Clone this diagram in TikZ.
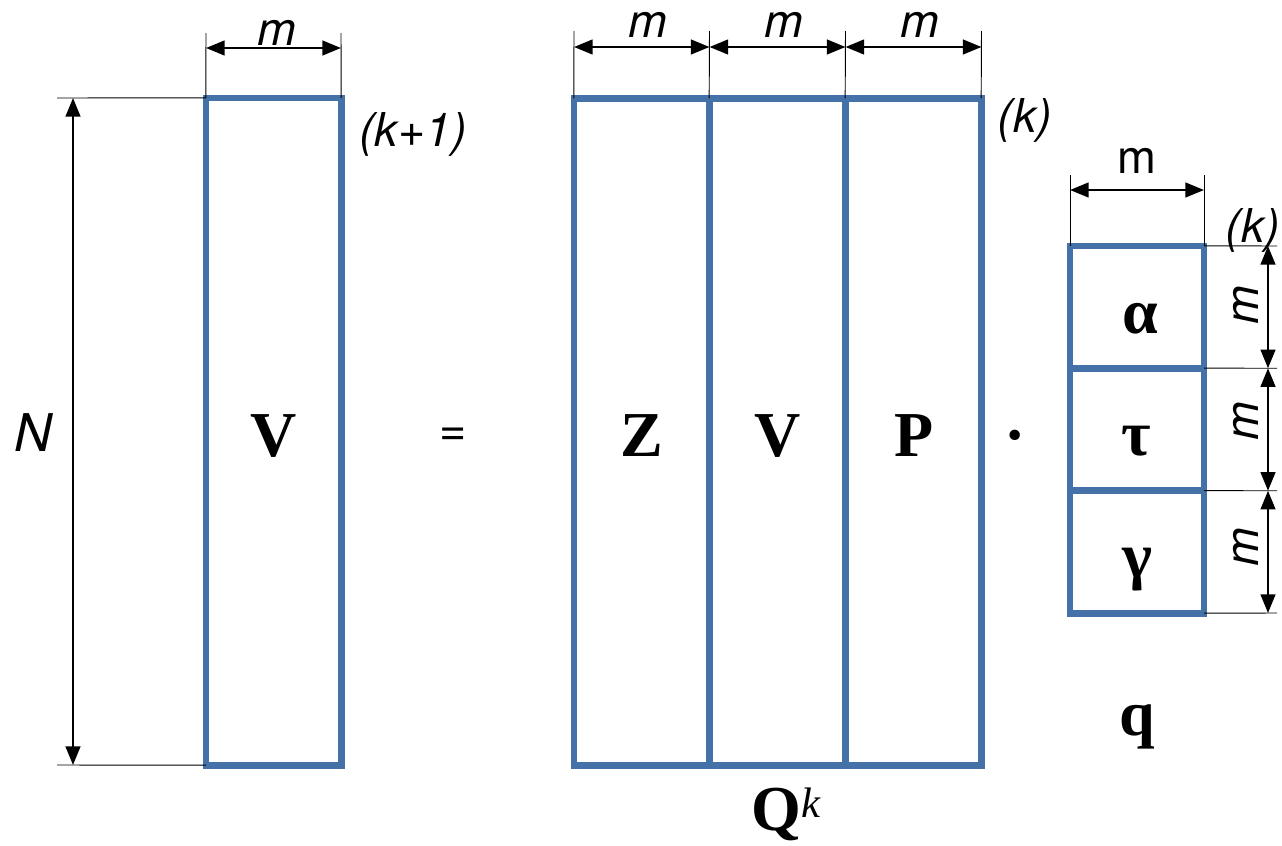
\documentclass[tikz,border=0pt]{standalone}
\usepackage{fontspec}
\setmainfont{Liberation Serif}
\setsansfont{TeX Gyre Heros}
\usetikzlibrary{arrows.meta}
\definecolor{boxblue}{RGB}{68,114,168}
\begin{document}
\begin{tikzpicture}[x=0.75pt,y=-0.75pt,
  cell/.style={draw=boxblue, line width=5pt, inner sep=0pt, outer sep=0pt, minimum width=101.5pt},
  tall/.style={cell, minimum height=500.5pt},
  small/.style={cell, minimum width=100.5pt, minimum height=91.75pt},
  big/.style={font=\fontsize{48}{50}\selectfont\bfseries, inner sep=0pt},
  lab/.style={font=\fontsize{35}{37}\selectfont\sffamily\itshape, inner sep=0pt},
  ulab/.style={font=\fontsize{35}{37}\selectfont\sffamily, inner sep=0pt},
  ext/.style={draw=black, line width=0.7pt},
  dim/.style={draw=black, line width=1.8pt, {Triangle[length=14pt,width=11pt]}-{Triangle[length=14pt,width=11pt]}}
]
\useasboundingbox (0,0) rectangle (1282,846);

% ---------- left V box ----------
\node[tall] (Vl) at (273.5,431.5) {};
\node[big, anchor=base] (VlT) at (273.5,456) {V};

% top dimension of left box
\coordinate (vlA) at (206,33);
\coordinate (vlB) at (341,33);
\draw[ext] (Vl.north west) -- (vlA);
\draw[ext] (Vl.north east) -- (vlB);
\coordinate (vlAa) at (206,48);
\coordinate (vlBa) at (341,48);
\draw[dim] (vlAa) -- (vlBa);
\node[lab, anchor=base] (mV) at (277,45) {m};

% N dimension
\coordinate (nT) at (57,98);
\coordinate (nB) at (57,765);
\draw[ext] (Vl.north west) -- (nT);
\draw[ext] (Vl.south west) -- (nB);
\coordinate (nTa) at (73,98);
\coordinate (nBa) at (73,765);
\draw[dim] (nTa) -- (nBa);
\node[lab, font=\fontsize{39}{41}\selectfont\sffamily\itshape] (N) at (33,433) {N};

\node[lab] (kp1) at (413,134) {(k+1)};

% equals
\node[ulab] (eq) at (453,437) {=};

% ---------- middle Q box ----------
\node[tall] (Z) at (641.5,432) {};
\node[tall] (Vm) at (777.5,432) {};
\node[tall] (P) at (913.5,432) {};
\node[big, anchor=base] (ZT) at (641.5,456) {Z};
\node[big, anchor=base] (VmT) at (778,456) {V};
\node[big, anchor=base] (PT) at (914,456) {P};

\coordinate (q1) at (574,31);
\coordinate (q2) at (709.5,31);
\coordinate (q3) at (845.5,31);
\coordinate (q4) at (981.5,31);
\draw[ext] (Z.north west) -- (q1);
\draw[ext] (Z.north east) -- (q2);
\draw[ext] (Vm.north east) -- (q3);
\draw[ext] (P.north east) -- (q4);
\coordinate (q1a) at (574,47);
\coordinate (q2a) at (709.5,47);
\coordinate (q3a) at (845.5,47);
\coordinate (q4a) at (981.5,47);
\draw[dim] (q1a) -- (q2a);
\draw[dim] (q2a) -- (q3a);
\draw[dim] (q3a) -- (q4a);
\node[lab, anchor=base] (mZ) at (648,37) {m};
\node[lab, anchor=base] (mVm) at (784,37) {m};
\node[lab, anchor=base] (mP) at (920,37) {m};

\node[lab] (kQ) at (1025,120) {(k)};

\node[big, anchor=base] (Qk) at (786,830) {Q{\fontsize{32}{34}\selectfont\mdseries\itshape\raisebox{9.5pt}{k}}};

% multiplication dot
\node[big] (dot) at (1015,443) {·};

% ---------- small q box ----------
\node[small] (a) at (1137,307) {};
\node[small] (t) at (1137,429.5) {};
\node[small] (g) at (1137,552) {};
\node[big, anchor=base] (aT) at (1140,333) {α};
\node[big, anchor=base] (tT) at (1136,455) {τ};
\node[big, anchor=base] (gT) at (1137,577) {γ};

\coordinate (sA) at (1070,175);
\coordinate (sB) at (1204,175);
\draw[ext] (a.north west) -- (sA);
\draw[ext] (a.north east) -- (sB);
\coordinate (sAa) at (1070,190);
\coordinate (sBa) at (1204,190);
\draw[dim] (sAa) -- (sBa);
\node[ulab, anchor=base] (mq) at (1137,173) {m};

\coordinate (r1) at (1277,246);
\coordinate (r2) at (1277,368.25);
\coordinate (r3) at (1277,490.75);
\coordinate (r4) at (1277,613);
\draw[ext] (a.north east) -- (r1);
\draw[ext] (a.south east) -- (r2);
\draw[ext] (t.south east) -- (r3);
\draw[ext] (g.south east) -- (r4);
\coordinate (r1a) at (1268,246);
\coordinate (r2a) at (1268,368.25);
\coordinate (r3a) at (1268,490.75);
\coordinate (r4a) at (1268,613);
\draw[dim] (r1a) -- (r2a);
\draw[dim] (r2a) -- (r3a);
\draw[dim] (r3a) -- (r4a);
\node[lab, rotate=90] (m1) at (1246,305) {m};
\node[lab, rotate=90] (m2) at (1246,421) {m};
\node[lab, rotate=90] (m3) at (1246,547) {m};

\node[lab] (kq) at (1253,230) {(k)};

\node[big, anchor=base] (qT) at (1137,735) {q};
\end{tikzpicture}
\end{document}
